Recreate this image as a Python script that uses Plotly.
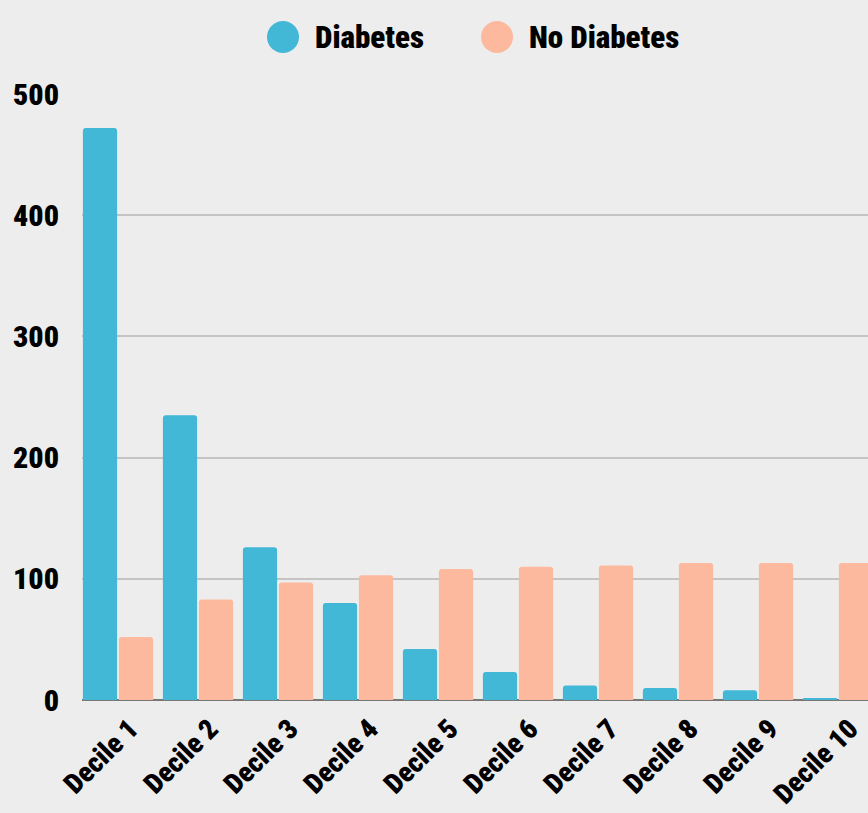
import plotly.graph_objects as go

categories = ["Decile 1", "Decile 2", "Decile 3", "Decile 4", "Decile 5",
              "Decile 6", "Decile 7", "Decile 8", "Decile 9", "Decile 10"]
diabetes = [472, 235, 126, 80, 42, 23, 12, 10, 8, 1]
no_diabetes = [52, 83, 97, 103, 108, 110, 111, 113, 113, 113]
y_ticks = [0, 100, 200, 300, 400, 500]
series_names = ["Diabetes", "No Diabetes"]

C_DIAB = "#42B8D6"
C_NODIAB = "#FDB99D"
BG = "#EDEDED"
FONT = "Roboto Condensed, Open Sans Condensed, sans-serif"

fig = go.Figure()
fig.add_trace(go.Bar(x=categories, y=diabetes, name=series_names[0],
                     marker=dict(color=C_DIAB, line=dict(width=0)), showlegend=False))
fig.add_trace(go.Bar(x=categories, y=no_diabetes, name=series_names[1],
                     marker=dict(color=C_NODIAB, line=dict(width=0)), showlegend=False))

# manual legend (large circles)
L, R, T, B = 82, 0, 94, 113
W, H = 868, 813
pw, ph = W - L - R, H - T - B
def px(x):
    return (x - L) / pw
def py(y):
    return 1 + (T - y) / ph

legend_items = [(283, 313, C_DIAB, series_names[0]), (497, 527, C_NODIAB, series_names[1])]
shapes, annots = [], []
for cx, tx, col, name in legend_items:
    shapes.append(dict(type="circle", xref="paper", yref="paper",
                       xsizemode="pixel", ysizemode="pixel",
                       xanchor=px(cx), yanchor=py(37),
                       x0=-16, x1=16, y0=-16, y1=16,
                       fillcolor=col, line=dict(width=0)))
    annots.append(dict(text=name, xref="paper", yref="paper", x=px(tx), y=py(38),
                       xanchor="left", yanchor="middle", showarrow=False,
                       font=dict(family=FONT, size=31, color="#000", weight=900)))

fig.update_layout(
    width=W, height=H,
    margin=dict(l=L, r=R, t=T, b=B, pad=0),
    paper_bgcolor=BG, plot_bgcolor=BG,
    barmode="group", bargap=0.1, bargroupgap=0.05, barcornerradius=3,
    shapes=shapes, annotations=annots,
    showlegend=False,
    font=dict(family=FONT, size=28, color="#000", weight=900),
    xaxis=dict(range=[-0.45, 9.375], tickangle=-45, showgrid=False,
               ticks="", showline=False, automargin=False,
               ticklabelstandoff=6, ticklabelshift=12,
               tickfont=dict(family=FONT, size=28, color="#000", weight=900)),
    yaxis=dict(range=[0, 500], tickvals=y_ticks, showgrid=True,
               gridcolor="#C4C4C4", gridwidth=1.5,
               zeroline=True, zerolinecolor="#777777", zerolinewidth=2,
               ticks="", showline=False, ticklabelstandoff=22, automargin=False,
               tickfont=dict(family=FONT, size=30, color="#000", weight=900)),
)

fig.write_html("out.html")
